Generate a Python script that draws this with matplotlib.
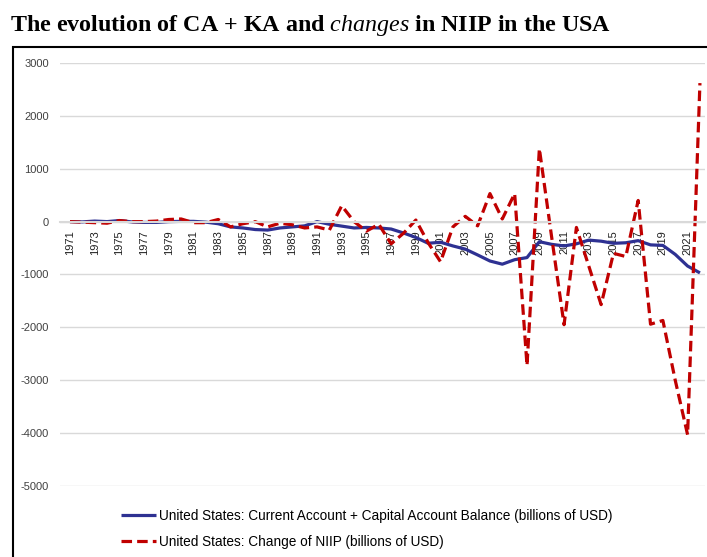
import matplotlib
matplotlib.use("Agg")
import matplotlib.pyplot as plt
from matplotlib.patches import Rectangle

plt.rcParams["mathtext.fontset"] = "custom"
plt.rcParams["mathtext.it"] = "Liberation Serif:italic"
plt.rcParams["mathtext.rm"] = "Liberation Serif"

# years 1971..2022
years = list(range(1971, 2023))

# United States: Current Account + Capital Account Balance (billions of USD)
ca_ka = [0, -5, 10, 0, 20, -5, -15, -15, 0, 5,
         5, -10, -40, -100, -120, -150, -160, -120, -100, -80,
         0, -50, -85, -120, -110, -120, -140, -215, -300, -410,
         -390, -460, -520, -630, -745, -805, -720, -680, -380, -430,
         -460, -420, -350, -370, -410, -400, -360, -440, -450, -620,
         -840, -970]

# United States: Change of NIIP (billions of USD)
niip_change = [0, -10, -20, -30, 20, 0, 0, 10, 40, 50,
               -20, -20, 40, -100, -40, 0, -100, -30, -60, -120,
               -100, -160, 300, 0, -180, -50, -420, -220, 30, -400,
               -760, -100, 100, -80, 530, 50, 530, -2720, 1380, -300,
               -1950, -110, -840, -1570, -600, -660, 400, -1940, -1870, -3000,
               -4030, 2620]

xlabels = [str(y) for y in range(1971, 2023, 2)]
yticks = list(range(-5000, 3001, 1000))

title = "The evolution of CA + KA and $\\mathit{changes}$ in NIIP in the USA"

fig = plt.figure(figsize=(7.07, 5.57), dpi=100)
ax = fig.add_axes([0.085, 0.1275, 0.912, 0.7594])

ax.plot(years, ca_ka, color="#2e3192", lw=2.3, solid_capstyle="butt",
        label="United States: Current Account + Capital Account Balance (billions of USD)")
ax.plot(years, niip_change, color="#c00000", lw=2.3, linestyle=(0, (3.3, 1.6)),
        label="United States: Change of NIIP (billions of USD)")

ax.grid(axis="y", color="#d9d9d9", lw=1)
ax.set_axisbelow(True)
for s in ["top", "right", "left"]:
    ax.spines[s].set_visible(False)
ax.spines["bottom"].set_position(("data", 0))
ax.spines["bottom"].set_color("#d9d9d9")
ax.spines["bottom"].set_linewidth(1.5)

ax.set_xlim(1970.2, 2022.4)
ax.set_ylim(-5000, 3000)
ax.set_yticks(yticks)
ax.set_yticklabels([str(v) for v in yticks])
ax.set_xticks(list(range(1971, 2023, 2)))
ax.set_xticklabels(xlabels)
ax.tick_params(axis="both", length=0, labelsize=8, colors="#404040")
ax.tick_params(axis="x", pad=6, labelcolor="#202020", labelrotation=90)
ax.tick_params(axis="y", pad=8)
for t in ax.get_xticklabels() + ax.get_yticklabels():
    t.set_family("Liberation Sans")

leg = ax.legend(loc="upper left", bbox_to_anchor=(0.075, -0.025), frameon=False,
                prop={"family": "Liberation Sans", "size": 9.8},
                handlelength=2.6, handletextpad=0.2, labelspacing=0.9)

fig.text(0.014, 0.955, title, family="Liberation Serif", weight="bold",
         fontsize=17.3, va="center", ha="left")

# frame around the chart area
fig.patches.append(Rectangle((13 / 707, -0.1), 1.2, 0.1 + (557 - 47) / 557,
                             transform=fig.transFigure, fill=False,
                             edgecolor="black", lw=1.5, clip_on=False))

fig.savefig("out.png", dpi=100)
